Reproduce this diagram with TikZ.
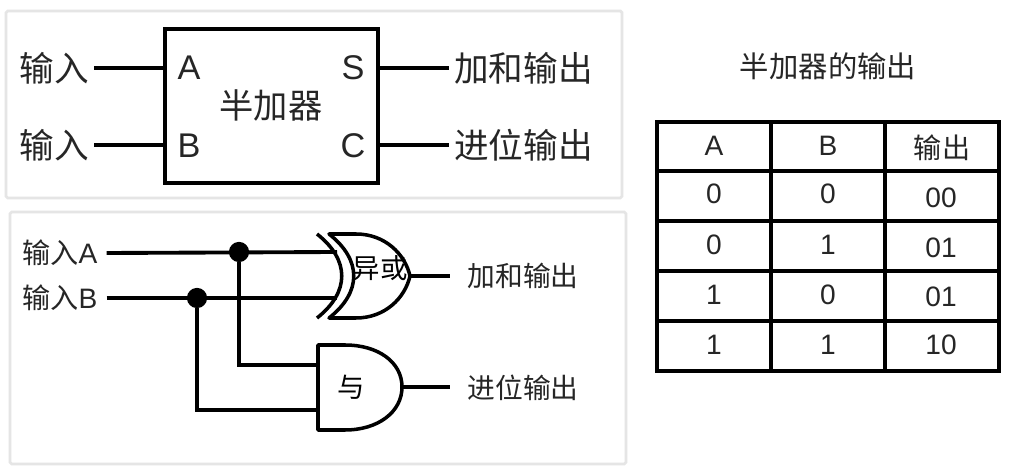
\documentclass[tikz,border=0pt]{standalone}
\usepackage{fontspec}
\setmainfont{Liberation Sans}
\newfontfamily\cjk{Noto Sans CJK SC}
\usetikzlibrary{positioning,calc}

\begin{document}
\begin{tikzpicture}[
    x=0.02cm, y=-0.02cm,
    panel/.style={draw=black!10, line width=1.6pt, fill=white, rounded corners=1pt},
    block/.style={draw, line width=2.5pt, minimum width=121.4pt, minimum height=87.7pt, inner sep=0pt},
    wire/.style={line width=2.2pt},
    gate/.style={line width=2pt, fill=white, line join=round},
    biglabel/.style={font=\fontsize{19.7}{22}\selectfont\cjk, text=black!85, inner sep=3pt},
    pin/.style={font=\fontsize{19.5}{22}\selectfont, text=black!85, inner sep=0pt},
    smalllabel/.style={font=\fontsize{15.8}{18}\selectfont\cjk, text=black!85, inner sep=10pt},
    inlabel/.style={font=\fontsize{16}{18}\selectfont, text=black!85, inner sep=5pt},
    gatelabel/.style={font=\fontsize{15.6}{17}\selectfont\cjk, inner sep=0pt},
    cell/.style={font=\fontsize{16}{18}\selectfont, text=black!85, inner sep=0pt},
    dot/.style={circle, fill, inner sep=0pt, minimum size=11.5pt}
  ]
    \useasboundingbox (0,0) rectangle (1016,475);
    \fill[white] (0,0) rectangle (1016,475);
    \draw[panel] (6,11) rectangle (622,198);
    \draw[panel] (10,212) rectangle (626,464);

    % half adder block
    \node[block] (adder) at (271.5,106) {};
    \node[font=\fontsize{19.5}{22}\selectfont\cjk, text=black!85, inner sep=0pt] (addername) at (271,105) {半加器};
    \node[pin] (pina) at (189,68) {A};
    \node[pin] (pinb) at (189,146) {B};
    \node[pin] (pins) at (353,68) {S};
    \node[pin] (pinc) at (353,146) {C};
    \node[biglabel] (ina) at (54,68) {输入};
    \node[biglabel] (inb) at (54,145) {输入};
    \node[biglabel] (sumout) at (523.5,68) {加和输出};
    \node[biglabel] (carryout) at (523.5,145) {进位输出};

    \draw[wire] (ina.east) -- (adder.west |- ina.east);
    \draw[wire] (inb.east) -- (adder.west |- inb.east);
    \draw[wire] (adder.east |- sumout.west) -- (sumout.west);
    \draw[wire] (adder.east |- carryout.west) -- (carryout.west);

    % gates
    \coordinate (xora) at (337,252);
    \coordinate (xorb) at (337,298);
    \coordinate (xorout) at (410,276);
    \coordinate (anda) at (318,365);
    \coordinate (andb) at (318,410);
    \coordinate (andout) at (402,387);

    \node[inlabel] (labela) at (60,253) {{\cjk 输入}A};
    \node[inlabel] (labelb) at (60,298) {{\cjk 输入}B};
    \node[dot] (dota) at (239,252) {};
    \node[dot] (dotb) at (197,298) {};
    \node[smalllabel] (xorlabel) at (523,276) {加和输出};
    \node[smalllabel] (andlabel) at (523,388) {进位输出};

    \draw[wire] (labela.east) -- (xora);
    \draw[wire] (labelb.east) -- (xorb);
    \draw[wire] (dota) |- (anda);
    \draw[wire] (dotb) |- (andb);
    \draw[wire] (xorout) -- (xorlabel.west |- xorout);
    \draw[wire] (andout) -- (andlabel.west |- andout);

    \draw[gate] (329,234) -- (356,234) .. controls (385,234) and (405,254) .. (xorout)
      .. controls (405,298) and (385,318) .. (356,318) -- (329,318)
      .. controls (362,292) and (362,260) .. cycle;
    \draw[gate, fill=none] (317,234) .. controls (350,260) and (350,292) .. (317,318);
    \draw[gate] (318,345) -- (345,345) .. controls (378,345) and (402,362) .. (andout)
      .. controls (402,412) and (378,430) .. (345,430) -- (318,430) -- cycle;

    \node[gatelabel] (xorname) at (380,268) {异或};
    \node[gatelabel] (andname) at (351,387) {与};

    % truth table
    \node[font=\fontsize{16.7}{19}\selectfont\cjk, text=black!85, inner sep=0pt] (tabletitle) at (828,66) {半加器的输出};
    \draw[line width=2.2pt] (657,122) rectangle (999,371);
    \foreach \x in {771,885}
      \draw[line width=2.2pt] (\x,122) -- (\x,371);
    \foreach \y in {171,221,271,321}
      \draw[line width=2.2pt] (657,\y) -- (999,\y);
    \foreach \x/\y/\t/\n in {714/146/A/ca, 828/146/B/cb, 714/194/0/aa, 828/194/0/ba, 941/198/00/oa,
        714/245/0/ab, 828/245/1/bb, 941/248/01/ob, 714/295/1/ac, 828/295/0/bc, 941/297/01/oc,
        714/345/1/ad, 828/345/1/bd, 941/345/10/od}
      \node[cell] (\n) at (\x,\y) {\t};
    \node[cell, font=\fontsize{16}{18}\selectfont\cjk] (co) at (942,148) {输出};
\end{tikzpicture}
\end{document}
